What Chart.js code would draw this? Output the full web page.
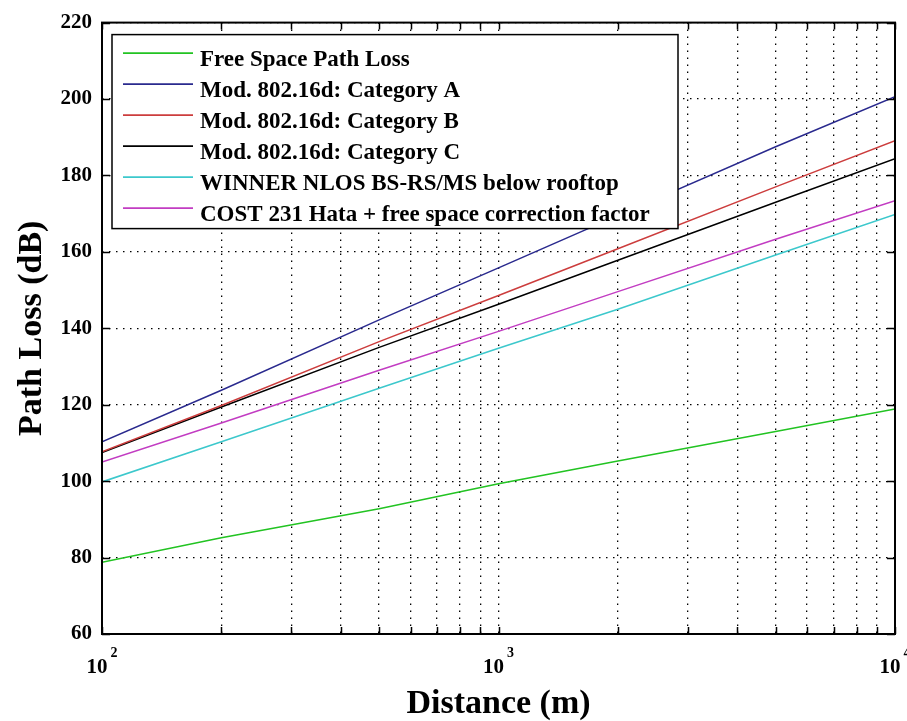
<!DOCTYPE html>
<html>
<head>
<meta charset="utf-8">
<script src="https://cdn.jsdelivr.net/npm/chart.js@4.4.1/dist/chart.umd.min.js"></script>
<style>
  body { margin: 0; background: #fff; }
  canvas { display: block; }
</style>
</head>
<body>
<canvas id="canvas" width="907" height="721"></canvas>
<script>
// distances in metres (log axis) and path loss in dB
var distances = [100, 200, 500, 1000, 2000, 5000, 10000];
var freeSpace = [78.8, 85.2, 92.8, 99.3, 105.3, 113.0, 118.9];
var catA = [110.3, 123.8, 142.2, 155.8, 169.5, 187.5, 200.6];
var catB = [107.7, 119.8, 136.5, 148.6, 160.8, 177.0, 189.1];
var catC = [107.5, 119.4, 135.0, 146.3, 157.8, 173.0, 184.4];
var winner = [99.8, 110.3, 124.3, 134.8, 145.0, 159.2, 169.8];
var cost231 = [105.0, 115.2, 129.0, 139.2, 149.6, 163.3, 173.4];

var seriesNames = [
    "Free Space Path Loss",
    "Mod. 802.16d: Category A",
    "Mod. 802.16d: Category B",
    "Mod. 802.16d: Category C",
    "WINNER NLOS BS-RS/MS below rooftop",
    "COST 231 Hata + free space correction factor"
];
var seriesColors = ["#22c322", "#2a2a8e", "#cc3d3d", "#000000", "#3cc8cc", "#c23cc2"];

// x grid positions (every 1..9 x 10^n) and the labelled decades
var xGridValues = [100, 200, 300, 400, 500, 600, 700, 800, 900,
    1000, 2000, 3000, 4000, 5000, 6000, 7000, 8000, 9000, 10000];
var xDecades = [100, 1000, 10000];
var xExponents = ["2", "3", "4"];

var SERIF = "'Liberation Serif', 'Times New Roman', serif";

function toPoints(vals) {
    return vals.map(function (v, i) { return { x: distances[i], y: v }; });
}

var allSeries = [freeSpace, catA, catB, catC, winner, cost231];
var datasets = allSeries.map(function (vals, i) {
    return {
        label: seriesNames[i],
        data: toPoints(vals),
        borderColor: seriesColors[i],
        backgroundColor: seriesColors[i],
        borderWidth: 1.5,
        pointRadius: 0,
        tension: 0,
        fill: false
    };
});

// box, inward ticks, legend and 10^n labels, matlab style
var matlabBits = {
    id: 'matlabBits',
    afterDraw: function (chart) {
        var ctx = chart.ctx;
        var a = chart.chartArea;
        var xs = chart.scales.x;
        var ys = chart.scales.y;
        ctx.save();

        // tick marks pointing into the plot
        ctx.strokeStyle = "#000";
        ctx.lineWidth = 1.5;
        ctx.beginPath();
        xGridValues.forEach(function (v) {
            var px = Math.round(xs.getPixelForValue(v)) + 0.5;
            ctx.moveTo(px, a.bottom); ctx.lineTo(px, a.bottom - 7);
            ctx.moveTo(px, a.top); ctx.lineTo(px, a.top + 7);
        });
        ys.ticks.forEach(function (t) {
            var py = Math.round(ys.getPixelForValue(t.value)) + 0.5;
            ctx.moveTo(a.left, py); ctx.lineTo(a.left + 8, py);
            ctx.moveTo(a.right, py); ctx.lineTo(a.right - 8, py);
        });
        ctx.stroke();

        // axes box
        ctx.lineWidth = 2;
        ctx.strokeRect(a.left, a.top, a.right - a.left, a.bottom - a.top);

        // x labels: 10 with a raised exponent
        ctx.fillStyle = "#000";
        ctx.textBaseline = "alphabetic";
        xDecades.forEach(function (v, i) {
            var px = xs.getPixelForValue(v);
            ctx.font = "bold 21px " + SERIF;
            var w10 = ctx.measureText("10").width;
            ctx.font = "bold 14px " + SERIF;
            var we = ctx.measureText(xExponents[i]).width;
            var x0 = px - (w10 + 3 + we) / 2;
            ctx.font = "bold 21px " + SERIF;
            ctx.fillText("10", x0, a.bottom + 39);
            ctx.font = "bold 14px " + SERIF;
            ctx.fillText(xExponents[i], x0 + w10 + 3, a.bottom + 23);
        });

        // legend box in the upper left corner
        var lx = a.left + 10, ly = a.top + 12;
        var lw = 566, lh = 194;
        ctx.fillStyle = "#fff";
        ctx.fillRect(lx, ly, lw, lh);
        ctx.lineWidth = 1.5;
        ctx.strokeStyle = "#000";
        ctx.strokeRect(lx, ly, lw, lh);
        chart.data.datasets.forEach(function (ds, i) {
            var rowY = ly + 18.5 + i * 31;
            ctx.strokeStyle = ds.borderColor;
            ctx.lineWidth = 1.6;
            ctx.beginPath();
            ctx.moveTo(lx + 11, rowY);
            ctx.lineTo(lx + 81, rowY);
            ctx.stroke();
            ctx.fillStyle = "#000";
            ctx.font = "bold 23px " + SERIF;
            ctx.fillText(ds.label, lx + 88, rowY + 13);
        });
        ctx.restore();
    }
};

var ctx = document.getElementById('canvas');

new Chart(ctx, {
    type: 'line',
    data: { datasets: datasets },
    options: {
        responsive: false,
        animation: false,
        layout: { padding: { left: 0, right: 12, top: 17, bottom: 0 } },
        plugins: {
            legend: { display: false },
            tooltip: { enabled: false }
        },
        scales: {
            x: {
                type: 'logarithmic',
                min: 100,
                max: 10000,
                afterBuildTicks: function (scale) {
                    scale.ticks = xGridValues.map(function (v) { return { value: v }; });
                },
                afterFit: function (scale) { scale.height = 87; },
                ticks: { display: false, autoSkip: false },
                grid: { color: "#000", lineWidth: 1.3, drawTicks: false },
                border: { display: false, dash: [1.5, 5.5] },
                title: {
                    display: true,
                    text: "Distance (m)",
                    color: "#000",
                    font: { family: SERIF, size: 34, weight: 'bold' },
                    padding: { bottom: -4 }
                }
            },
            y: {
                min: 60,
                max: 220,
                afterFit: function (scale) { scale.width = 102; },
                ticks: {
                    stepSize: 20,
                    padding: 10,
                    color: "#000",
                    font: { family: SERIF, size: 21, weight: 'bold' }
                },
                grid: { color: "#000", lineWidth: 1.3, drawTicks: false },
                border: { display: false, dash: [1.5, 5.5] },
                title: {
                    display: true,
                    text: "Path Loss (dB)",
                    color: "#000",
                    font: { family: SERIF, size: 34, weight: 'bold' },
                    padding: { top: 12 }
                }
            }
        }
    },
    plugins: [matlabBits]
});
</script>
</body>
</html>
